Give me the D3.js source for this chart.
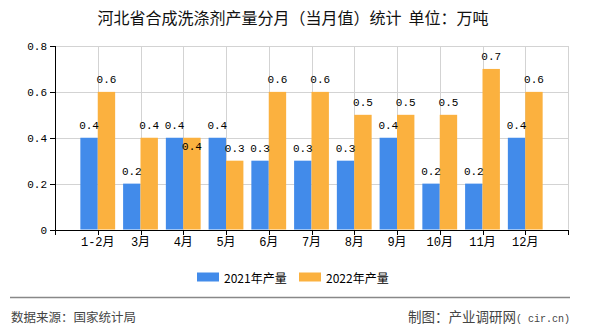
<!DOCTYPE html>
<html><head><meta charset="utf-8">
<script src="https://cdn.jsdelivr.net/npm/d3@7"></script>
<style>
html,body{margin:0;padding:0;background:#fff;}
svg{display:block;}
</style></head>
<body>
<svg id="chart" width="590" height="330"></svg>
<script>
const title = "河北省合成洗涤剂产量分月（当月值）统计 单位：万吨";
const categories = ["1-2月","3月","4月","5月","6月","7月","8月","9月","10月","11月","12月"];
const seriesNames = ["2021年产量","2022年产量"];
const values2021 = [0.4,0.2,0.4,0.4,0.3,0.3,0.3,0.4,0.2,0.2,0.4];
const values2022 = [0.6,0.4,0.4,0.3,0.6,0.6,0.5,0.5,0.5,0.7,0.6];
const yTicks = [0,0.2,0.4,0.6,0.8];
const yTickLabels = ["0","0.2","0.4","0.6","0.8"];
const sourceText = "数据来源：国家统计局";
const creditText = "制图：产业调研网";
const creditSite = "( cir.cn)";

(function(){
const colors = ["#428bea","#fbb13f"];
const svg = d3.select("#chart");
const cjk = "'Noto Sans CJK SC','Noto Sans',sans-serif";
const mono = "'Liberation Mono','DejaVu Sans Mono',monospace";

const pL = 55, pR = 568, pT = 46, pB = 229.5;
const x = d3.scalePoint().domain(categories).range([pL, pR]).padding(1);
const y = d3.scaleLinear().domain([0, 0.8]).range([pB, pT]);
const barW = 17.4;

// title
svg.append("text").attr("x", 293).attr("y", 24).attr("text-anchor","middle")
  .attr("font-family", cjk).attr("font-size", 16).attr("fill","#111")
  .attr("xml:space","preserve").text(title.replace(" ", "  "));

// grid
const g = svg.append("g");
g.selectAll("line.hg").data(yTicks.filter(d=>d>0)).join("line")
  .attr("x1", pL).attr("x2", pR).attr("y1", d=>Math.round(y(d))+0.5).attr("y2", d=>Math.round(y(d))+0.5)
  .attr("stroke","#d3d3d3").attr("stroke-width",1);
g.selectAll("line.vg").data(categories).join("line")
  .attr("x1", d=>Math.round(x(d))+0.5).attr("x2", d=>Math.round(x(d))+0.5)
  .attr("y1", pT).attr("y2", pB).attr("stroke","#d3d3d3");
g.append("line").attr("x1", pR+0.5).attr("x2", pR+0.5).attr("y1", pT).attr("y2", pB).attr("stroke","#d3d3d3");

// bars
const data = categories.map((c,i)=>({c, v:[values2021[i], values2022[i]]}));
const bars = svg.append("g");
[0,1].forEach(s=>{
  bars.selectAll("rect.s"+s).data(data).join("rect").attr("class","s"+s)
    .attr("x", d=> s===0 ? x(d.c)-barW : x(d.c))
    .attr("width", barW)
    .attr("y", d=>y(d.v[s]))
    .attr("height", d=>y(0)-y(d.v[s]))
    .attr("fill", colors[s]);
});

// value labels
const lab = svg.append("g").attr("font-family", mono).attr("font-size", 11).attr("fill","#000").attr("text-anchor","middle");
[0,1].forEach(s=>{
  lab.selectAll("text.s"+s).data(data).join("text").attr("class","s"+s)
    .attr("x", d=> s===0 ? x(d.c)-barW/2 : x(d.c)+barW/2)
    .attr("y", d=>{
      let yy = y(d.v[s]) - 9;
      if (s===1 && d.v[0]===d.v[1]) yy += 21; // avoid overlap with neighbour label
      return yy;
    })
    .text(d=>d.v[s].toFixed(1));
});

// axes
const axes = svg.append("g").attr("stroke","#000");
axes.append("line").attr("x1", pL+0.5).attr("x2", pL+0.5).attr("y1", pT).attr("y2", pB+0.5);
axes.append("line").attr("x1", pL).attr("x2", pR+1).attr("y1", Math.round(pB)+0.5).attr("y2", Math.round(pB)+0.5);
axes.selectAll("line.yt").data(yTicks).join("line").attr("class","yt")
  .attr("x1", pL-5).attr("x2", pL).attr("y1", d=>Math.round(y(d))+0.5).attr("y2", d=>Math.round(y(d))+0.5);
const xTickPos = [pL].concat(categories.map(c=>x(c))).concat([pR]);
axes.selectAll("line.xt").data(xTickPos).join("line").attr("class","xt")
  .attr("x1", d=>Math.round(d)+0.5).attr("x2", d=>Math.round(d)+0.5)
  .attr("y1", Math.round(pB)).attr("y2", Math.round(pB)+5);

svg.append("g").attr("font-family", mono).attr("font-size", 11).attr("text-anchor","end")
  .selectAll("text").data(yTicks).join("text")
  .attr("x", pL-8).attr("y", d=>y(d)+4).text((d,i)=>yTickLabels[i]);

svg.append("g").attr("font-family", "'Liberation Mono','Noto Sans CJK SC',monospace").attr("font-size", 12).attr("text-anchor","middle")
  .selectAll("text").data(categories).join("text")
  .attr("x", d=>x(d)).attr("y", 246).text(d=>d);

// legend
const legX = [197, 299];
const leg = svg.append("g");
seriesNames.forEach((n,i)=>{
  leg.append("rect").attr("x", legX[i]).attr("y", 272.5).attr("width", 22).attr("height", 9).attr("fill", colors[i]);
  leg.append("text").attr("x", legX[i]+27).attr("y", 282.5).attr("font-family", cjk).attr("font-size", 12).attr("fill","#000").text(n);
});

// footer
svg.append("line").attr("x1", 10).attr("x2", 570).attr("y1", 297.5).attr("y2", 297.5).attr("stroke","#888").attr("stroke-width",1.5);
svg.append("text").attr("x", 11).attr("y", 321.5).attr("font-family", cjk).attr("font-size", 12.5).attr("fill","#444").text(sourceText);
const cr = svg.append("text").attr("x", 570).attr("y", 321.5).attr("text-anchor","end").attr("fill","#444").attr("xml:space","preserve");
cr.append("tspan").attr("font-family", cjk).attr("font-size", 13.5).text(creditText);
cr.append("tspan").attr("font-family", mono).attr("font-size", 10).text(creditSite);
})();
</script>
</body></html>
